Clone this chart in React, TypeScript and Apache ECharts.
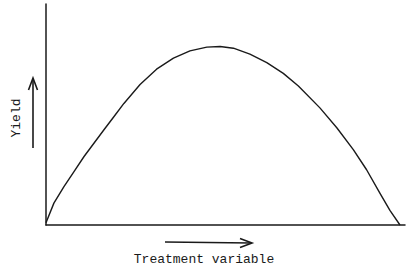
import React, { useEffect, useRef } from "react";
import * as echarts from "echarts";

// Curve (treatment variable, yield), arbitrary units 0-100
const treatment = [0, 2.2, 5.0, 7.8, 10.6, 13.4, 16.2, 18.9, 21.7, 26.2, 30.8, 35.5, 40.1, 44.8, 48.5, 52.2, 56.8, 61.5, 66.1, 70.3, 76.3, 81.0, 85.6, 89.3, 93.0, 95.8, 98.6];
const yieldValues = [1, 9.9, 17.4, 24.2, 31.0, 37.1, 43.2, 49.0, 55.0, 63.6, 70.5, 75.5, 78.8, 80.5, 80.8, 80.0, 77.3, 73.5, 68.6, 62.9, 53.0, 44.0, 34.1, 25.0, 14.4, 6.6, 0];
const xLabel = "Treatment variable";
const yLabel = "Yield";

const ink = "#1a1a1a";
const font = "'Liberation Mono', 'DejaVu Sans Mono', monospace";

export default function App() {
  const ref = useRef<HTMLDivElement>(null);
  useEffect(() => {
    if (!ref.current) return;
    const chart = echarts.init(ref.current, null, { renderer: "svg" });
    const data = treatment.map((x, i) => [x, yieldValues[i]]);
    chart.setOption({
      animation: false,
      backgroundColor: "#ffffff",
      grid: { left: 46, right: 5, top: 4, bottom: 45 },
      xAxis: {
        type: "value",
        min: 0,
        max: 100,
        axisLine: { show: true, lineStyle: { color: ink, width: 1.5 } },
        axisTick: { show: false },
        axisLabel: { show: false },
        splitLine: { show: false },
      },
      yAxis: {
        type: "value",
        min: 0,
        max: 100,
        axisLine: { show: true, lineStyle: { color: ink, width: 1.5 } },
        axisTick: { show: false },
        axisLabel: { show: false },
        splitLine: { show: false },
      },
      series: [
        {
          type: "line",
          data,
          smooth: false,
          symbol: "none",
          lineStyle: { color: ink, width: 1.4, join: "round" },
          clip: false,
        },
      ],
      graphic: [
        {
          type: "text",
          x: 16,
          y: 118,
          rotation: Math.PI / 2,
          style: {
            text: yLabel,
            font: `13px ${font}`,
            fill: ink,
            align: "center",
            verticalAlign: "middle",
          },
        },
        {
          type: "line",
          shape: { x1: 33, y1: 148, x2: 33, y2: 79 },
          style: { stroke: ink, lineWidth: 1.6 },
        },
        {
          type: "polyline",
          shape: { points: [[28.5, 90], [33, 78], [37.5, 90]] },
          style: { stroke: ink, lineWidth: 1.6, fill: null },
        },
        {
          type: "line",
          shape: { x1: 165, y1: 242, x2: 251, y2: 243 },
          style: { stroke: ink, lineWidth: 1.6 },
        },
        {
          type: "polyline",
          shape: { points: [[240, 238.5], [252, 243], [240, 247.5]] },
          style: { stroke: ink, lineWidth: 1.6, fill: null },
        },
        {
          type: "text",
          x: 204,
          y: 259,
          style: {
            text: xLabel,
            font: `13px ${font}`,
            fill: ink,
            align: "center",
            verticalAlign: "middle",
          },
        },
      ],
    });
    return () => chart.dispose();
  }, []);
  return <div ref={ref} style={{ width: 410, height: 270, position: "absolute", left: 0, top: 0 }} />;
}
